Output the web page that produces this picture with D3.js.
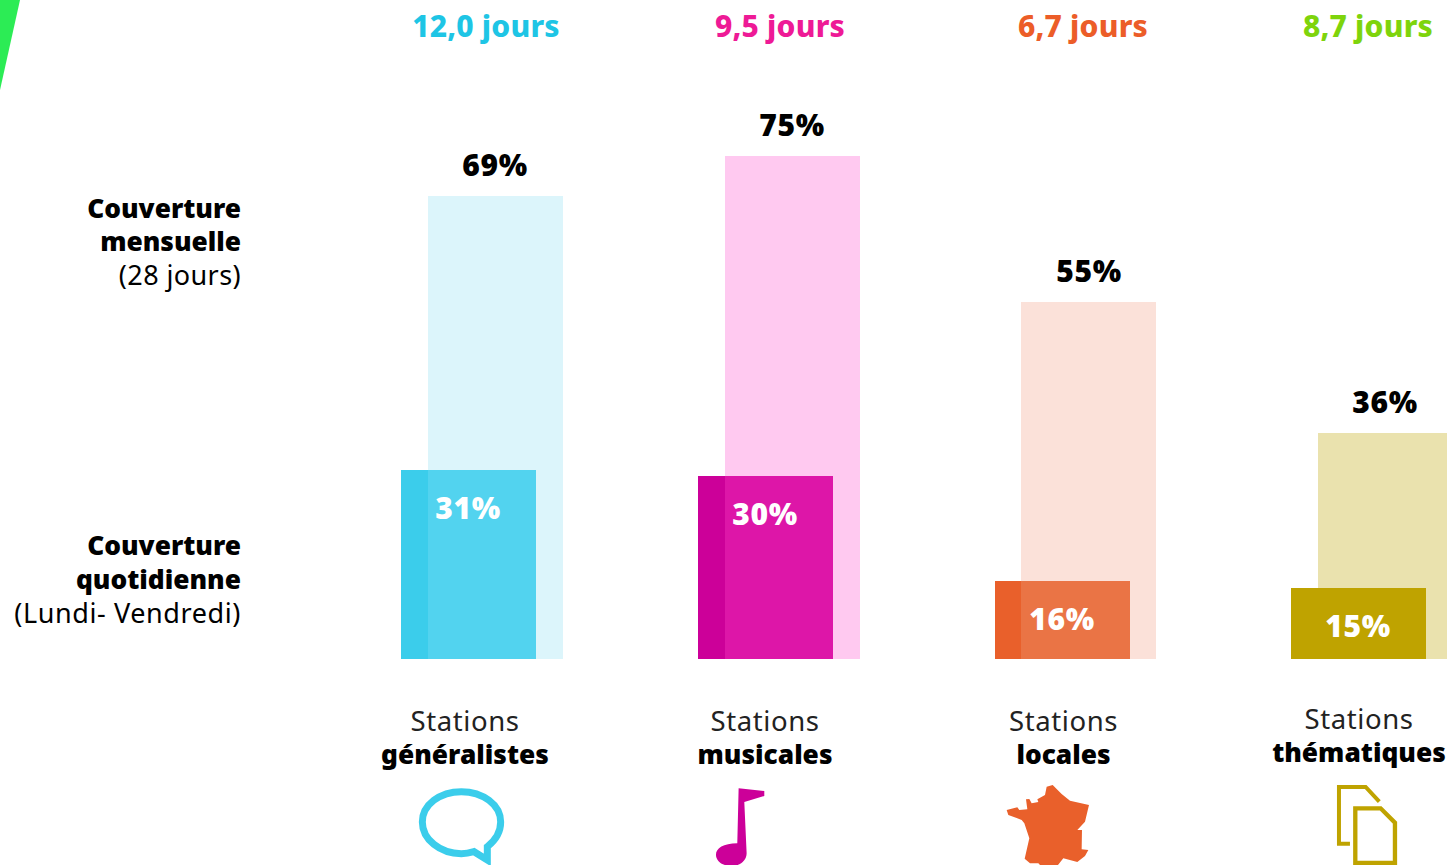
<!DOCTYPE html>
<html><head><meta charset="utf-8">
<script src="https://cdn.jsdelivr.net/npm/d3@7"></script>
<style>html,body{margin:0;padding:0;background:#fff;overflow:hidden}svg{display:block;font-family:"Noto Sans",sans-serif}</style>
</head><body><svg id="c" width="1447" height="865"></svg>
<script>
const categories = ["généralistes","musicales","locales","thématiques"];
const monthly = [69,75,55,36];
const daily = [31,30,16,15];
const durations = ["12,0 jours","9,5 jours","6,7 jours","8,7 jours"];
const durationColors = ["#1EC5E5","#EE1A96","#EC5D28","#7ED40C"];
const solidColors = ["#3BCDEB","#CC0099","#E9602B","#BFA300"];
const overlapColors = ["#52D3EF","#DD16A8","#EA7445","#BFA300"];
const lightColors = ["#DCF5FB","#FFC9F0","#FBE1D9","#EAE2AE"];

const svg = d3.select("#c");
const W = 135;
const dailyScale = d3.scalePoint().domain(categories).range([401,1291.4]);
const monthlyScale = d3.scalePoint().domain(categories).range([428,1318]);
const x = c => Math.round(dailyScale(c));
const xm = c => Math.round(monthlyScale(c));
// the source bars are not strictly proportional, so the value axis is piecewise
const y = d3.scaleLinear().domain([0,15,16,30,31,36,55,69,75]).range([659,588,581,476,470,433,302,196,156]);

svg.append("path").attr("d","M0,0L20,0L0,90Z").attr("fill","#2CEC55");

svg.selectAll(".m").data(monthly).join("rect").attr("class","m")
  .attr("x",(d,i)=>xm(categories[i])).attr("y",d=>y(d)).attr("width",W).attr("height",d=>y(0)-y(d))
  .attr("fill",(d,i)=>lightColors[i]);
svg.selectAll(".d").data(daily).join("rect").attr("class","d")
  .attr("x",(d,i)=>x(categories[i])).attr("y",d=>y(d)).attr("width",W).attr("height",d=>y(0)-y(d))
  .attr("fill",(d,i)=>solidColors[i]);
svg.selectAll(".o").data(daily).join("rect").attr("class","o")
  .attr("x",(d,i)=>xm(categories[i])).attr("y",d=>y(d))
  .attr("width",(d,i)=>x(categories[i])+W-xm(categories[i])).attr("height",d=>y(0)-y(d))
  .attr("fill",(d,i)=>overlapColors[i]);

function t(txt,px,py,size,weight,fill,anchor,ls){
  return svg.append("text").text(txt).attr("x",px).attr("y",py).attr("font-size",size)
    .attr("font-weight",weight).attr("fill",fill).attr("text-anchor",anchor||"middle")
    .attr("letter-spacing",ls||0);
}
const durX=[486,780,1083,1368];
durations.forEach((s,i)=>t(s,durX[i],37,30,800,durationColors[i],"middle",0.2));
monthly.forEach((v,i)=>t(v+"%",x(categories[i])+94,y(v)-20,30,900,"#000","middle",0.6));
daily.forEach((v,i)=>t(v+"%",x(categories[i])+67,y(v)+49,30,900,"#fff","middle",0.6));

t("Couverture",241,218,26.3,900,"#000","end",0);
t("mensuelle",241,251,26.3,900,"#000","end",0);
t("(28 jours)",241,285,27,400,"#000","end",0.4);
t("Couverture",241,555,26.3,900,"#000","end",0);
t("quotidienne",241,589,26.3,900,"#000","end",0);
t("(Lundi- Vendredi)",241,623,27,400,"#000","end",0.6);

const labX=[465,765,1063.5,1359], labY=[731,731,731,729];
categories.forEach((c,i)=>{
  t("Stations",labX[i],labY[i],27.5,400,"#222","middle",0.6);
  t(c,labX[i],labY[i]+33,26.3,900,"#000","middle",0);
});

// pictograms, drawn in the coordinates of 3x crops
const g1=svg.append("g").attr("transform","translate(380,770) scale(0.3333)");
g1.append("path").attr("fill","none").attr("stroke","#3BCDEB").attr("stroke-width",21)
  .attr("d","M282,245C265,250 255,251 244,251C180,251 127,208 127,156C127,104 180,65 244,65C308,65 362,104 362,156C362,188 345,212 322,230L322,270Z");
g1.append("path").attr("fill","#CC0099")
  .attr("d","M1076,55L1153,63L1153,78L1093,96L1100,250C1100,275 1075,290 1050,288C1025,286 1008,272 1008,254C1008,235 1030,220 1072,220Z");
const g2=svg.append("g").attr("transform","translate(990,770) scale(0.3333)");
g2.append("path").attr("fill","#E9602B")
  .attr("d","M50,120L82,112L88,120L112,118L108,88L118,87L125,100L145,96L142,88L165,75L170,50L188,45L215,72L240,92L297,105L285,155L262,180L276,180L275,238L295,240L285,258L262,276L220,265L200,290L155,290L145,280L120,280L104,266L118,205L103,160L95,150L55,135Z");
g2.append("path").attr("fill","none").attr("stroke","#BFA300").attr("stroke-width",12)
  .attr("d","M1080,221L1047,221L1047,51L1127,51L1168,95");
g2.append("path").attr("fill","none").attr("stroke","#BFA300").attr("stroke-width",13)
  .attr("d","M1096,115L1172,115L1215,158L1215,279L1096,279Z");
</script></body></html>
